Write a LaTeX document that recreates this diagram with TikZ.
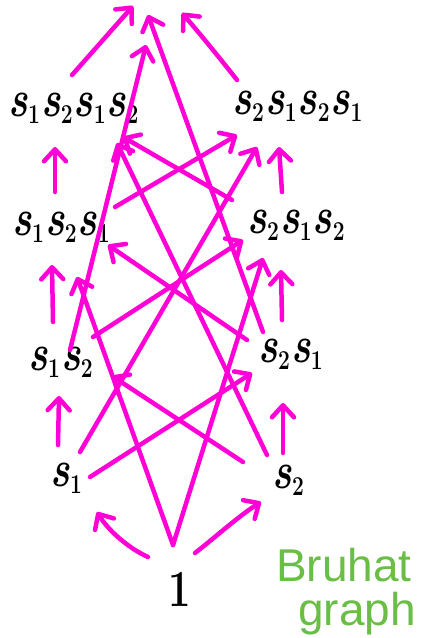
\documentclass[tikz,border=0pt]{standalone}
\usepackage{fontspec}
\usetikzlibrary{arrows.meta}
\newfontfamily\notefont{Liberation Sans}
\definecolor{hotpink}{RGB}{255,0,214}
\definecolor{notegreen}{RGB}{106,190,70}
\newcommand\sidx[1]{{\itshape s}\kern0.5pt\raisebox{-6pt}{\fontsize{21}{21}\selectfont\upshape #1}\kern1pt}
\newcommand\tallbox[1]{\scalebox{1}[1.3]{#1}}
\tikzset{
  edge/.style={draw=hotpink, line width=4.5pt, line cap=round, line join=round,
    -{Straight Barb[round,length=12pt,width=22pt]}},
  lbl/.style={anchor=base west, inner sep=0pt, text=black,
    font=\fontsize{40}{42}\selectfont\bfseries},
  note/.style={anchor=base west, inner sep=0pt, text=notegreen,
    font=\notefont\fontsize{46}{48}\selectfont},
}
\begin{document}
\begin{tikzpicture}[x=1pt,y=-1pt]
\useasboundingbox (0,0) rectangle (432,638);
% labels
\node[lbl] (e) at (168,606) {\tallbox{1}};
\node[lbl] (s1) at (50,486) {\tallbox{\sidx{1}}};
\node[lbl] (s2) at (272,488) {\tallbox{\sidx{2}}};
\node[lbl] (s1s2) at (28,370) {\tallbox{\sidx{1}\sidx{2}}};
\node[lbl] (s2s1) at (258,362) {\tallbox{\sidx{2}\sidx{1}}};
\node[lbl] (s1s2s1) at (12,235) {\tallbox{\sidx{1}\sidx{2}\sidx{1}}};
\node[lbl] (s2s1s2) at (247,233) {\tallbox{\sidx{2}\sidx{1}\sidx{2}}};
\node[lbl] (s1s2s1s2) at (8,116) {\tallbox{\sidx{1}\sidx{2}\sidx{1}\sidx{2}}};
\node[lbl] (s2s1s2s1) at (232,114) {\tallbox{\sidx{2}\sidx{1}\sidx{2}\sidx{1}}};
\node[note] (bruhat) at (276,581) {Bruhat};
\node[note] (graph) at (298,625) {graph};
% ports
\coordinate (eA) at (148,557);
\coordinate (eB) at (195,553);
\coordinate (eC) at (173,545);
\coordinate (s1In) at (97,512);
\coordinate (s2In) at (261,502);
\coordinate (s1s2s1InA) at (77,277);
\coordinate (s2s1s2InA) at (263,258);
\coordinate (s1Up) at (58,445);
\coordinate (s1R) at (90,477);
\coordinate (s1RR) at (80,452);
\coordinate (s1s2InA) at (59,396);
\coordinate (s2s1InA) at (252,373);
\coordinate (s2s1s2s1InA) at (257,147);
\coordinate (s2Up) at (283,453);
\coordinate (s2L) at (243,462);
\coordinate (s2LL) at (267,455);
\coordinate (s2s1InB) at (283,403);
\coordinate (s1s2InB) at (112,376);
\coordinate (s1s2s1s2InA) at (117,143);
\coordinate (s1s2Up) at (53,322);
\coordinate (s1s2R) at (93,337);
\coordinate (s1s2T) at (70,350);
\coordinate (s1s2s1InB) at (52,265);
\coordinate (s2s1s2InB) at (243,240);
\coordinate (s2s1Up) at (282,320);
\coordinate (s2s1L) at (247,340);
\coordinate (s2s1T) at (263,332);
\coordinate (s2s1s2InC) at (281,270);
\coordinate (s1s2s1InC) at (108,245);
\coordinate (s1s2s1Up) at (55,192);
\coordinate (s1s2s1R) at (115,207);
\coordinate (s1s2s1s2InB) at (55,147);
\coordinate (s2s1s2s1InB) at (237,135);
\coordinate (s2s1s2Up) at (282,192);
\coordinate (s2s1s2L) at (232,200);
\coordinate (s2s1s2s1InC) at (279,147);
\coordinate (s1s2s1s2InC) at (123,137);
\coordinate (s1s2s1s2T) at (72,75);
\coordinate (s2s1s2s1T) at (237,80);
\coordinate (w0a) at (133,6);
\coordinate (w0b) at (146,45);
\coordinate (w0c) at (148,15);
\coordinate (w0d) at (182,13);
% edges from 1
\draw[edge] (eA) .. controls (128,548) and (108,530) .. (s1In);
\draw[edge] (eB) .. controls (218,535) and (240,515) .. (s2In);
\draw[edge] (eC) -- (s1s2s1InA);
\draw[edge] (eC) -- (s2s1s2InA);
% from s1
\draw[edge] (s1Up) -- (s1s2InA);
\draw[edge] (s1R) -- (s2s1InA);
\draw[edge] (s1RR) -- (s2s1s2s1InA);
% from s2
\draw[edge] (s2Up) -- (s2s1InB);
\draw[edge] (s2L) -- (s1s2InB);
\draw[edge] (s2LL) -- (s1s2s1s2InA);
% from s1s2
\draw[edge] (s1s2Up) -- (s1s2s1InB);
\draw[edge] (s1s2R) -- (s2s1s2InB);
\draw[edge] (s1s2T) -- (w0b);
% from s2s1
\draw[edge] (s2s1Up) -- (s2s1s2InC);
\draw[edge] (s2s1L) -- (s1s2s1InC);
\draw[edge] (s2s1T) -- (w0c);
% from s1s2s1
\draw[edge] (s1s2s1Up) -- (s1s2s1s2InB);
\draw[edge] (s1s2s1R) -- (s2s1s2s1InB);
% from s2s1s2
\draw[edge] (s2s1s2Up) -- (s2s1s2s1InC);
\draw[edge] (s2s1s2L) -- (s1s2s1s2InC);
% to top
\draw[edge] (s1s2s1s2T) -- (w0a);
\draw[edge] (s2s1s2s1T) .. controls (215,52) and (195,28) .. (w0d);
\end{tikzpicture}
\end{document}
